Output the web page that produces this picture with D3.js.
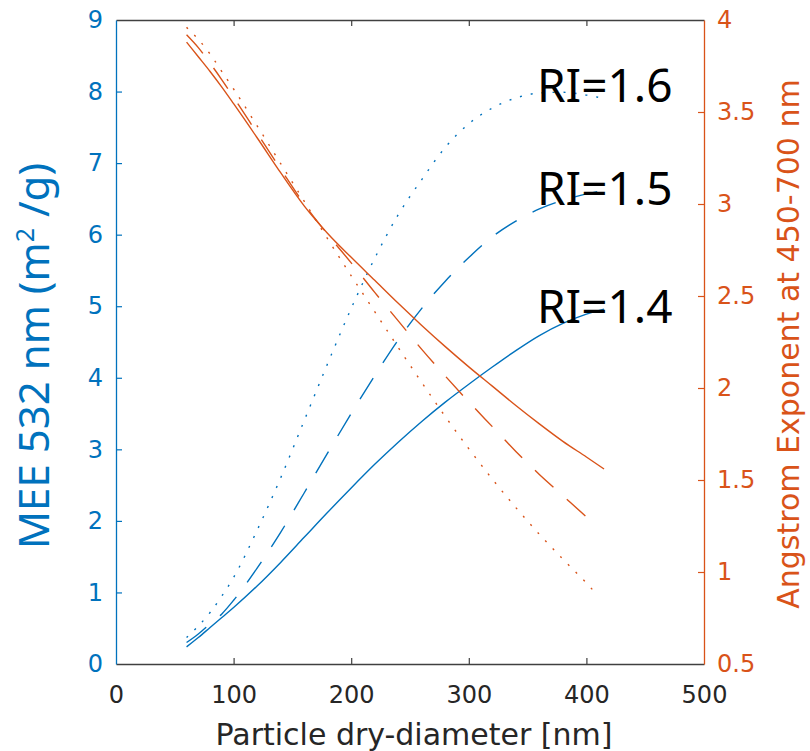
<!DOCTYPE html>
<html><head><meta charset="utf-8">
<script src="https://cdn.jsdelivr.net/npm/d3@7"></script>
<style>body{margin:0;background:#fff}</style>
</head><body>
<svg id="chart" width="810" height="751"></svg>
<script>
// ---- data ----
const diametersLong  = [60,70,80,90,100,120,140,160,180,200,220,240,260,280,300,320,340,360,380,400,415];
const diametersShort = [60,70,80,90,100,120,140,160,180,200,220,240,260,280,300,320,340,360,380,400,410];
// MEE 532 nm (m2/g), left axis
const mee14 = [0.24,0.37,0.51,0.65,0.79,1.09,1.42,1.77,2.12,2.46,2.79,3.10,3.39,3.66,3.91,4.15,4.38,4.59,4.76,4.89,4.96];
const mee15 = [0.30,0.42,0.56,0.70,0.89,1.34,1.84,2.39,2.95,3.50,4.03,4.53,4.97,5.35,5.68,5.97,6.19,6.36,6.48,6.57,6.62];
const mee16 = [0.37,0.53,0.72,0.95,1.21,1.87,2.60,3.40,4.20,4.97,5.67,6.28,6.77,7.22,7.55,7.77,7.91,7.98,7.99,7.95,7.92];
// Angstrom exponent 450-700 nm, right axis
const ae14 = [3.88,3.80,3.72,3.635,3.545,3.36,3.17,2.99,2.84,2.71,2.585,2.46,2.34,2.225,2.115,2.01,1.905,1.805,1.71,1.625,1.56];
const ae15 = [3.92,3.85,3.765,3.675,3.58,3.385,3.19,3.00,2.835,2.68,2.52,2.365,2.21,2.065,1.925,1.79,1.655,1.53,1.415,1.30,1.245];
const ae16 = [3.96,3.895,3.815,3.72,3.625,3.425,3.22,3.015,2.81,2.61,2.415,2.22,2.03,1.845,1.67,1.505,1.35,1.205,1.07,0.94,0.87];
const xTicks = [0,100,200,300,400,500];
const leftTicks = [0,1,2,3,4,5,6,7,8,9];
const rightTicks = [0.5,1,1.5,2,2.5,3,3.5,4];
const riLabels = ["RI=1.6","RI=1.5","RI=1.4"];

// ---- layout ----
const L = 116, R = 704, T = 20, B = 664;
const BLUE = "#0072BD", ORANGE = "#D95319", GRAY = "#404040";
const svg = d3.select("#chart");

const x = d3.scaleLinear().domain([0,500]).range([L,R]);
const yL = d3.scaleLinear().domain([0,9]).range([B,T]);
const yR = d3.scaleLinear().domain([0.5,4]).range([B,T]);

const tickFont = "'DejaVu Sans', sans-serif";

// bottom axis
const gx = svg.append("g").attr("transform",`translate(0,${B})`)
  .call(d3.axisBottom(x).tickValues(xTicks).tickSizeInner(-6).tickSizeOuter(0).tickPadding(22));
gx.select(".domain").attr("stroke",GRAY).attr("stroke-width",1.3);
gx.selectAll(".tick line").attr("stroke",GRAY).attr("stroke-width",1.2)
  .filter(d => d===0 || d===500).remove();
gx.selectAll(".tick text").attr("fill","#262626").style("font-family",tickFont).style("font-size","24px");

// top border with ticks
const gt = svg.append("g").attr("transform",`translate(0,${T})`)
  .call(d3.axisTop(x).tickValues(xTicks).tickSizeInner(-6).tickSizeOuter(0).tickFormat(""));
gt.select(".domain").attr("stroke",GRAY).attr("stroke-width",1.3);
gt.selectAll(".tick line").attr("stroke",GRAY).attr("stroke-width",1.2)
  .filter(d => d===0 || d===500).remove();

// left axis
const gl = svg.append("g").attr("transform",`translate(${L},0)`)
  .call(d3.axisLeft(yL).tickValues(leftTicks).tickSizeInner(-6).tickSizeOuter(0).tickPadding(13));
gl.select(".domain").attr("stroke",BLUE).attr("stroke-width",1.3);
gl.selectAll(".tick line").attr("stroke",BLUE).attr("stroke-width",1.2)
  .filter(d => d===0 || d===9).remove();
gl.selectAll(".tick text").attr("fill",BLUE).style("font-family",tickFont).style("font-size","24px");

// right axis
const gr = svg.append("g").attr("transform",`translate(${R},0)`)
  .call(d3.axisRight(yR).tickValues(rightTicks).tickSizeInner(-6).tickSizeOuter(0).tickPadding(13).tickFormat(d => String(d)));
gr.select(".domain").attr("stroke",ORANGE).attr("stroke-width",1.3);
gr.selectAll(".tick line").attr("stroke",ORANGE).attr("stroke-width",1.2)
  .filter(d => d===0.5 || d===4).remove();
gr.selectAll(".tick text").attr("fill",ORANGE).style("font-family",tickFont).style("font-size","24px");

// lines
const dashStyles = {solid:null, dashed:"25,18", dotted:"2,9"};
function drawLine(xs, ys, yScale, color, style){
  const data = xs.map((d,i)=>[d,ys[i]]);
  const line = d3.line().x(d=>x(d[0])).y(d=>yScale(d[1])).curve(d3.curveMonotoneX);
  svg.append("path").datum(data).attr("d",line)
    .attr("fill","none").attr("stroke",color).attr("stroke-width",1.4)
    .attr("stroke-dasharray",dashStyles[style]);
}
drawLine(diametersLong, mee14, yL, BLUE, "solid");
drawLine(diametersLong, mee15, yL, BLUE, "dashed");
drawLine(diametersShort, mee16, yL, BLUE, "dotted");
drawLine(diametersLong, ae14, yR, ORANGE, "solid");
drawLine(diametersShort, ae15, yR, ORANGE, "dashed");
drawLine(diametersShort, ae16, yR, ORANGE, "dotted");

// axis titles
svg.append("text").attr("x",414).attr("y",745).attr("text-anchor","middle")
  .attr("fill","#262626").style("font-family",tickFont).style("font-size","30px")
  .text("Particle dry-diameter [nm]");

const lt = svg.append("text").attr("transform","translate(49,356) rotate(-90)")
  .attr("text-anchor","middle").attr("fill",BLUE)
  .style("font-family","'Noto Sans', 'Open Sans', sans-serif").style("font-size","42px");
lt.append("tspan").text("MEE 532 nm (m");
lt.append("tspan").attr("dy","-15").style("font-size","25px").text("2");
lt.append("tspan").attr("dy","15").text(" /g)");

svg.append("text").attr("transform","translate(799,344) rotate(-90)")
  .attr("text-anchor","middle").attr("fill",ORANGE)
  .style("font-family",tickFont).style("font-size","30px")
  .text("Angstrom Exponent at 450-700 nm");

// RI labels
const riY = [102, 205, 323];
svg.selectAll("text.ri").data(riLabels).enter().append("text").attr("class","ri")
  .attr("x",537).attr("y",(d,i)=>riY[i]).attr("fill","#000")
  .style("font-family","'Noto Sans', 'Open Sans', sans-serif").style("font-size","46px")
  .text(d=>d);
</script>
</body></html>
